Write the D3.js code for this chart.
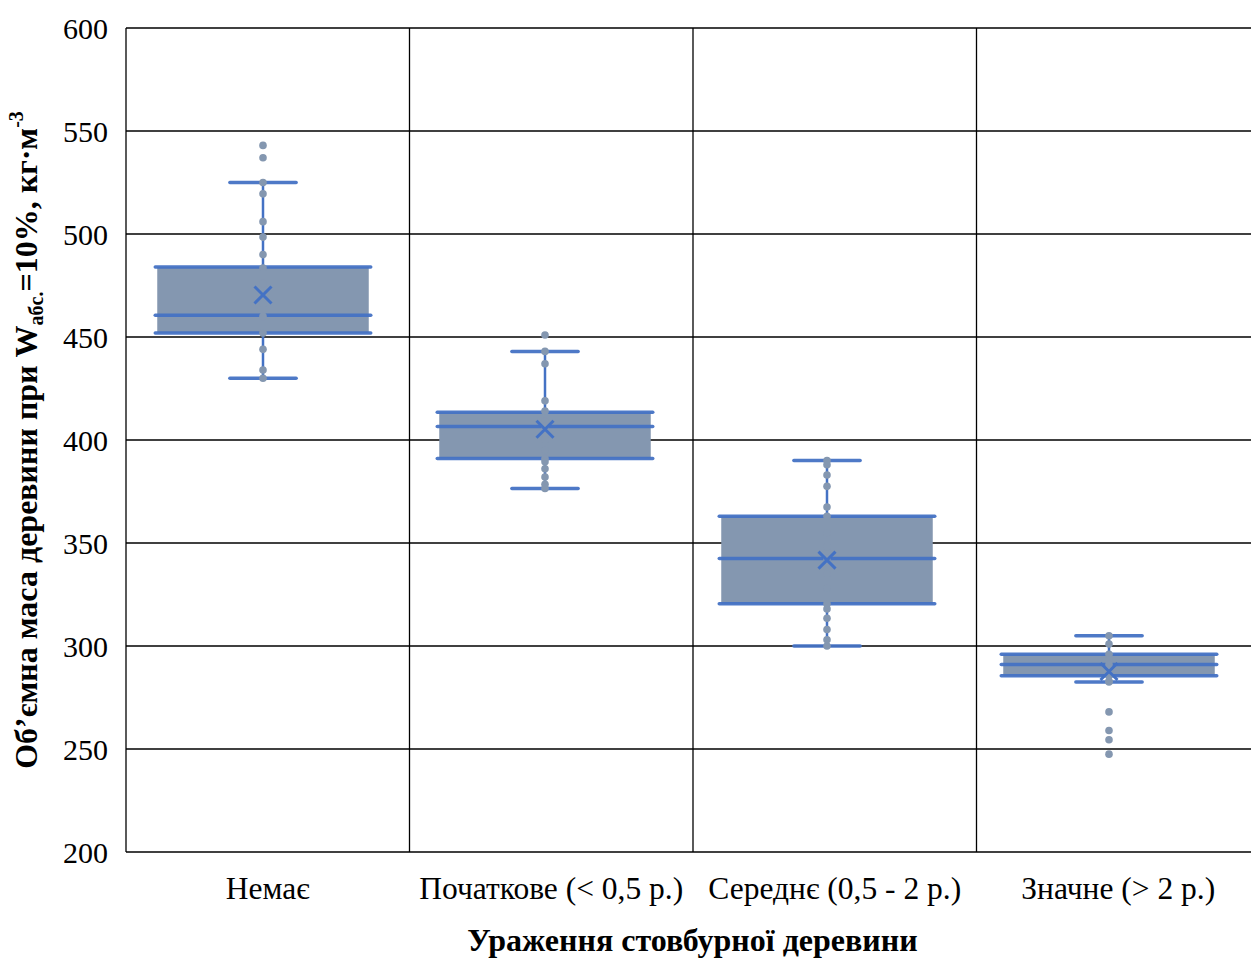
<!DOCTYPE html>
<html>
<head>
<meta charset="utf-8">
<script src="https://cdn.jsdelivr.net/npm/d3@7/dist/d3.min.js"></script>
<style>
  html, body { margin: 0; padding: 0; background: #fff; }
  svg { display: block; }
  text { font-family: "Liberation Serif", "Times New Roman", serif; fill: #000; }
</style>
</head>
<body>
<svg id="chart" width="1251" height="958"></svg>
<script>
// ---- data ----
const categories = ["Немає", "Початкове (< 0,5 р.)", "Середнє (0,5 - 2 р.)", "Значне (> 2 р.)"];
const q1 = [452, 391, 320.5, 285.5];
const median = [460.5, 406.5, 342.5, 291];
const q3 = [484, 413.5, 363, 296];
const whiskerLow = [430, 376.5, 300, 282.5];
const whiskerHigh = [525, 443, 390, 305];
const means = [470.4, 405.2, 341.7, 287.6];
const points = [
  [543, 537, 525, 519.5, 506, 498.5, 490, 483.5, 476, 466, 460, 452, 444, 434, 430],
  [451, 443, 437, 419, 414, 409, 406.5, 400, 395, 391, 389.5, 386, 382, 378.5, 376.5],
  [390, 388, 383, 377.5, 367.5, 363, 355, 348, 342.5, 335, 328, 320.5, 318, 313.5, 308, 303, 300],
  [305, 301, 296, 293, 291, 289, 287, 285.5, 283, 282.5, 268, 259, 254.5, 247.5]
];
const yTicks = [200, 250, 300, 350, 400, 450, 500, 550, 600];
const xTitle = "Ураження стовбурної деревини";

(function () {
// ---- layout ----
const svg = d3.select("#chart");
const W = 1251, H = 958;
const mLeft = 126, mTop = 28, mBottom = 852, mRight = 1260;

const y = d3.scaleLinear().domain([200, 600]).range([mBottom, mTop]);
const x = d3.scaleBand().domain(categories).range([mLeft, mRight]).padding(0);
const xBox = d3.scaleBand().domain(categories).range([mLeft - 4, mRight - 10]).padding(0);

const blue = "#4472C4";
const fill = "#8497B0";

// grid
const grid = svg.append("g");
grid.selectAll("line.h").data(yTicks).join("line")
  .attr("class", "h")
  .attr("x1", mLeft).attr("x2", W + 20)
  .attr("y1", d => y(d)).attr("y2", d => y(d))
  .attr("stroke", "#000").attr("stroke-width", 1.3);
grid.selectAll("line.v").data(categories).join("line")
  .attr("class", "v")
  .attr("x1", d => x(d)).attr("x2", d => x(d))
  .attr("y1", mTop).attr("y2", mBottom)
  .attr("stroke", "#000").attr("stroke-width", 1.3);

// y tick labels
svg.append("g").selectAll("text").data(yTicks).join("text")
  .attr("x", mLeft - 18).attr("y", d => y(d))
  .attr("dy", "0.35em")
  .attr("text-anchor", "end")
  .style("font-size", "30px")
  .text(d => d);

// x category labels
svg.append("g").selectAll("text").data(categories).join("text")
  .attr("x", d => x(d) + x.bandwidth() / 2)
  .attr("y", mBottom + 47)
  .attr("text-anchor", "middle")
  .style("font-size", "31.5px")
  .text(d => d);

// x title
svg.append("text")
  .attr("x", (mLeft + W) / 2 + 4)
  .attr("y", 951)
  .attr("text-anchor", "middle")
  .style("font-size", "32px").style("font-weight", "bold")
  .text(xTitle);

// y title
const yt = svg.append("text")
  .attr("transform", `translate(37, ${(mTop + mBottom) / 2}) rotate(-90)`)
  .attr("text-anchor", "middle")
  .style("font-size", "32px").style("font-weight", "bold");
yt.append("tspan").text("Об’ємна маса деревини при W");
yt.append("tspan").attr("dy", 6).style("font-size", "20px").text("абс.");
yt.append("tspan").attr("dy", -6).text("=10%, кг·м");
yt.append("tspan").attr("dy", -14).style("font-size", "20px").text("-3");

// boxes
const boxW = xBox.bandwidth() * 0.75;
const capW = xBox.bandwidth() * 0.235;
const cx = i => xBox(categories[i]) + xBox.bandwidth() / 2;
const idx = d3.range(categories.length);

const gBox = svg.append("g");
gBox.selectAll("rect").data(idx).join("rect")
  .attr("x", i => cx(i) - boxW / 2)
  .attr("width", boxW)
  .attr("y", i => y(q3[i]))
  .attr("height", i => y(q1[i]) - y(q3[i]))
  .attr("fill", fill);

// whiskers
gBox.selectAll("line.wu").data(idx).join("line")
  .attr("class", "wu")
  .attr("x1", cx).attr("x2", cx)
  .attr("y1", i => y(q3[i])).attr("y2", i => y(whiskerHigh[i]))
  .attr("stroke", blue).attr("stroke-width", 2.5);
gBox.selectAll("line.wl").data(idx).join("line")
  .attr("class", "wl")
  .attr("x1", cx).attr("x2", cx)
  .attr("y1", i => y(q1[i])).attr("y2", i => y(whiskerLow[i]))
  .attr("stroke", blue).attr("stroke-width", 2.5);

// horizontal box lines
const hLines = [];
idx.forEach(i => {
  hLines.push({ i, v: q1[i], w: boxW + 4 });
  hLines.push({ i, v: median[i], w: boxW + 4 });
  hLines.push({ i, v: q3[i], w: boxW + 4 });
  hLines.push({ i, v: whiskerLow[i], w: capW });
  hLines.push({ i, v: whiskerHigh[i], w: capW });
});
gBox.selectAll("line.hl").data(hLines).join("line")
  .attr("class", "hl")
  .attr("x1", d => cx(d.i) - d.w / 2).attr("x2", d => cx(d.i) + d.w / 2)
  .attr("y1", d => y(d.v)).attr("y2", d => y(d.v))
  .attr("stroke", blue).attr("stroke-width", 3.5)
  .attr("stroke-linecap", "round").attr("stroke-opacity", 0.95);

// points
const pts = [];
idx.forEach(i => points[i].forEach(v => pts.push({ i, v })));
gBox.selectAll("circle").data(pts).join("circle")
  .attr("cx", d => cx(d.i)).attr("cy", d => y(d.v))
  .attr("r", 3.8).attr("fill", fill);

// mean markers
const m = 8.5;
gBox.selectAll("path.mean").data(idx).join("path")
  .attr("class", "mean")
  .attr("d", i => {
    const px = cx(i), py = y(means[i]);
    return `M${px - m},${py - m}L${px + m},${py + m}M${px - m},${py + m}L${px + m},${py - m}`;
  })
  .attr("stroke", blue).attr("stroke-width", 3).attr("fill", "none");
})();
</script>
</body>
</html>
